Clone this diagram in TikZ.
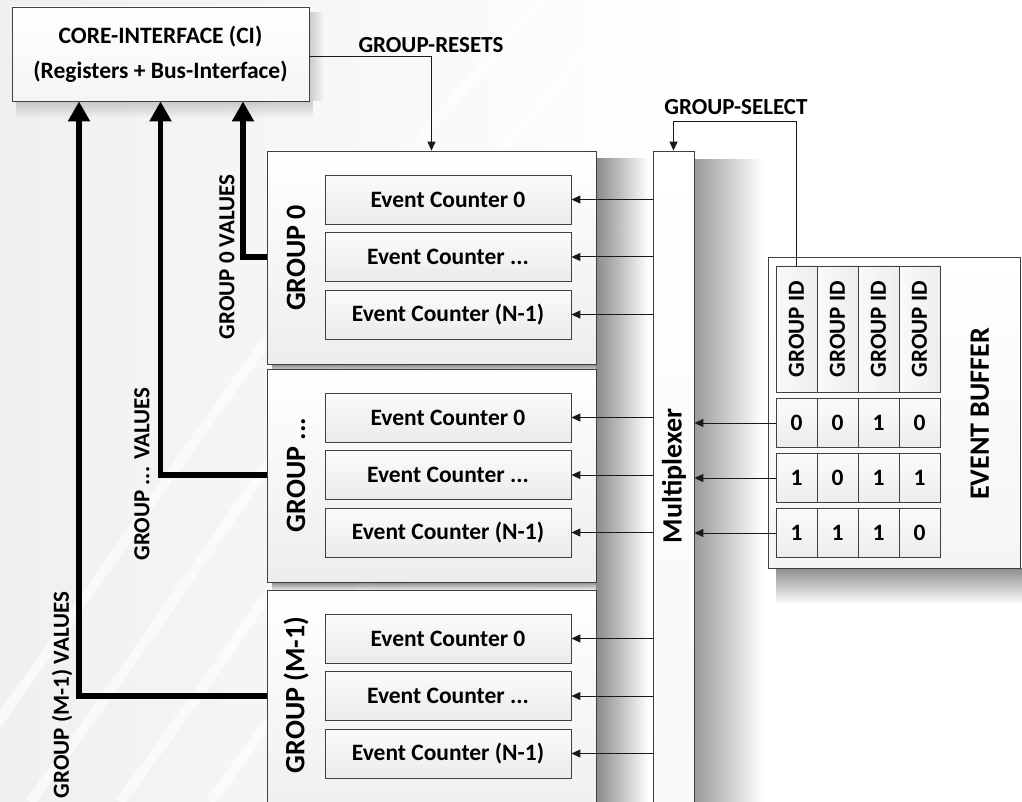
\documentclass[tikz,border=0pt]{standalone}
\usepackage{fontspec}
\setmainfont{Carlito}
\usetikzlibrary{arrows.meta,fadings}

\tikzfading[name=fade right, left color=transparent!0, right color=transparent!100]
\tikzfading[name=fade down, top color=transparent!0, bottom color=transparent!100]

\tikzset{
  box/.style={draw=black!75, line width=0.8pt, inner sep=0pt, align=center, font=\bfseries},
  cibox/.style={box, top color=white, bottom color=gray!8,
    minimum width=297pt, minimum height=94pt, font=\bfseries\fontsize{23.5}{35}\selectfont},
  groupbox/.style={box, top color=white, bottom color=gray!14, minimum width=329pt},
  counterbox/.style={box, top color=gray!3, bottom color=gray!16, minimum width=246pt, minimum height=49pt,
    font=\bfseries\fontsize{23.5}{27}\selectfont},
  muxbox/.style={box, top color=white, bottom color=gray!6, minimum width=41pt},
  bufbox/.style={box, top color=white, bottom color=gray!8, minimum width=252pt, minimum height=311pt},
  idcell/.style={box, left color=gray!4, right color=gray!14, minimum width=41pt, minimum height=126pt,
    font=\bfseries\fontsize{23}{27}\selectfont},
  bitcell/.style={box, top color=gray!3, bottom color=gray!15, minimum width=41pt, minimum height=49.5pt,
    font=\bfseries\fontsize{23.5}{27}\selectfont},
  lbl/.style={font=\bfseries\fontsize{23}{27}\selectfont, inner sep=0pt},
  grplbl/.style={font=\bfseries\fontsize{28}{32}\selectfont, inner sep=0pt, rotate=90},
  sig/.style={draw=black!90, line width=1pt, -{Triangle[length=9pt,width=8pt]}},
  bus/.style={draw=black, line width=5.5pt, line join=miter, -{Triangle[length=20pt,width=21pt]}},
  shadowR/.style={fill=black, opacity=0.45, path fading=fade right},
  shadowD/.style={fill=black, opacity=0.45, path fading=fade down},
}

\begin{document}
\begin{tikzpicture}[x=1pt,y=-1pt]
  \useasboundingbox (0,0) rectangle (1022,802);
  \clip (0,0) rectangle (1022,802);

  % soft backdrop
  \shade[left color=gray!12, right color=white] (0,0) rectangle (700,802);
  \foreach \o in {0,90,180,270}
    \draw[white, line width=10pt, opacity=0.6] (-60+\o,802) .. controls (120+\o,560) and (300+\o,260) .. (560+\o,-20);

  % drop shadows
  \path[fill=black, opacity=0.18, path fading=fade down] (16,101) rectangle (313,118);
  \path[fill=black, opacity=0.18, path fading=fade right] (309,12) rectangle (324,101);
  \path[shadowR] (596,157) rectangle (648,830);
  \foreach \b in {364,582}
    \path[shadowD] (272,\b) rectangle (596,\b+9);
  \path[fill=black, opacity=0.4, path fading=fade right] (694,158) rectangle (762,830);
  \path[shadowD] (776,568) rectangle (1022,604);

  % core interface
  \node[cibox] (ci) at (160.5,54) {CORE-INTERFACE (CI)\\(Registers + Bus-Interface)};

  % counter groups
  \node[groupbox, minimum height=213pt] (g0) at (431.5,257.5) {};
  \node[groupbox, minimum height=213pt] (g1) at (431.5,475.5) {};
  \node[groupbox, minimum height=250pt] (g2) at (431.5,715) {};

  % multiplexer
  \node[muxbox, minimum height=689pt] (mux) at (673.5,495.5) {};
  \node[font=\bfseries\fontsize{28}{32}\selectfont, rotate=90, inner sep=0pt] (muxl) at (674,476) {Multiplexer};

  % group labels
  \node[grplbl] (gl0) at (296,258) {GROUP 0};
  \node[grplbl] (gl1) at (296,475) {GROUP ...};
  \node[grplbl] (gl2) at (296,695) {GROUP (M-1)};

  % event counters and multiplexer outputs
  \foreach \g/\t in {0/151,1/369,2/590}{
    \node[counterbox] (c\g0) at (448,\t+48.5) {Event Counter 0};
    \node[counterbox] (c\g1) at (448,\t+106)  {Event Counter ...};
    \node[counterbox] (c\g2) at (448,\t+163.5) {Event Counter (N-1)};
    \foreach \k in {0,1,2}
      \draw[sig] (mux.west |- c\g\k.east) -- (c\g\k.east);
  }

  % event buffer
  \node[bufbox] (buf) at (894,412.5) {};
  \node[font=\bfseries\fontsize{28}{32}\selectfont, rotate=90, inner sep=0pt] (bufl) at (980,414) {EVENT BUFFER};
  \foreach \c/\x in {1/796.5,2/837.5,3/878.5,4/919.5}
    \node[idcell] (h\c) at (\x,329) {\rotatebox{90}{GROUP ID}};
  \foreach \r/\y/\bits in {1/423/{0,0,1,0},2/478/{1,0,1,1},3/533/{1,1,1,0}}{
    \foreach \b [count=\c] in \bits
      \node[bitcell] (r\r c\c) at (755.5+41*\c,\y) {\b};
    \draw[sig] (r\r c1.west) -- (mux.east |- r\r c1.west);
  }

  % control signals
  \draw[sig] ([yshift=-3pt]ci.east) -| (g0.north);
  \node[lbl] (rst) at (431,45) {GROUP-RESETS};
  \coordinate (selbend) at (796.5,122);
  \draw[sig] (h1.north) -- (selbend) -| (mux.north);
  \node[lbl] (sel) at (736,107) {GROUP-SELECT};

  % value buses back to the core interface
  \draw[bus] (g0.west |- c01.west) -| ([xshift=82.5pt]ci.south);
  \draw[bus] (g1.west |- c11.west) -| (ci.south);
  \draw[bus] (g2.west |- c21.west) -| ([xshift=-81.5pt]ci.south);
  \node[lbl, rotate=90] (v0) at (227,257) {GROUP 0 VALUES};
  \node[lbl, rotate=90] (v1) at (142,474) {GROUP ... VALUES};
  \node[lbl, rotate=90] (v2) at (62,695) {GROUP (M-1) VALUES};
\end{tikzpicture}
\end{document}
